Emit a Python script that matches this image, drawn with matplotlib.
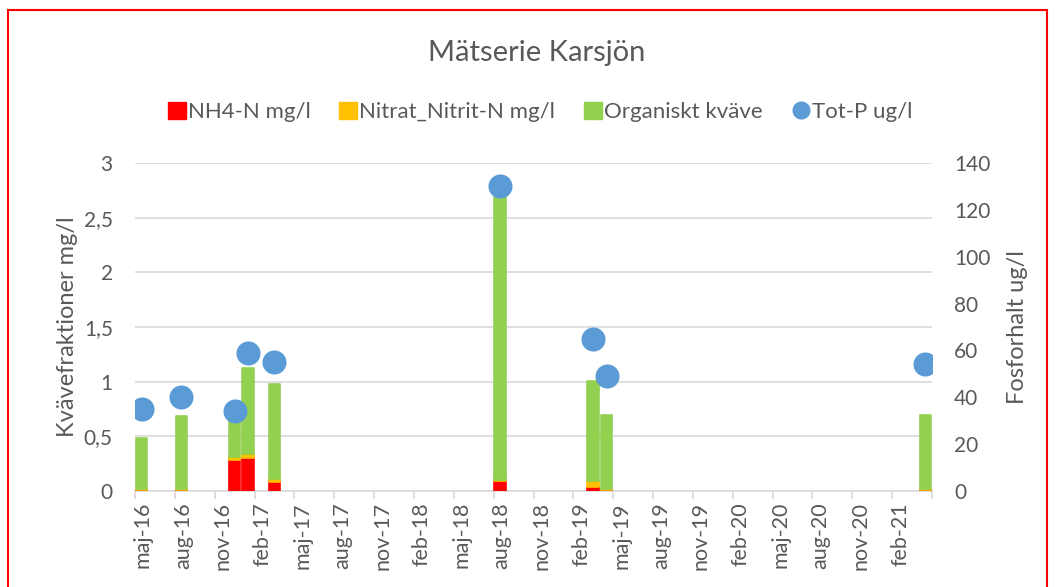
import pandas as pd
import matplotlib
matplotlib.use("Agg")
import matplotlib.pyplot as plt
from matplotlib.patches import Patch, Rectangle
from matplotlib.lines import Line2D
from matplotlib.ticker import FuncFormatter

# -------------------------
# DATA
# -------------------------
sample_months = ["2016-05", "2016-08", "2016-12", "2017-01", "2017-03",
                 "2018-08", "2019-03", "2019-04", "2021-04"]
nh4_n = [0.01, 0.01, 0.28, 0.30, 0.08, 0.09, 0.04, 0.01, 0.01]
nitrat_nitrit = [0.005, 0.005, 0.03, 0.04, 0.03, 0.01, 0.05, 0.005, 0.005]
organiskt = [0.47, 0.675, 0.44, 0.785, 0.87, 2.70, 0.92, 0.68, 0.68]
tot_p = [35, 40, 34, 59, 55, 130, 65, 49, 54]

axis_start = "2016-05"
axis_end = "2021-05"
sv_months = {1: "jan", 2: "feb", 3: "mar", 4: "apr", 5: "maj", 6: "jun",
             7: "jul", 8: "aug", 9: "sep", 10: "okt", 11: "nov", 12: "dec"}

# -------------------------
# STYLE
# -------------------------
RED = "#FF0000"
YELLOW = "#FFC000"
GREEN = "#92D050"
BLUE = "#5B9BD5"
GRAY = "#595959"
GRID = "#D9D9D9"
plt.rcParams["font.family"] = ["Lato", "DejaVu Sans"]

# month index relative to axis start, bars sit in the middle of their month
start = pd.Period(axis_start, freq="M")
end = pd.Period(axis_end, freq="M")
x = [(pd.Period(m, freq="M") - start).n + 0.5 for m in sample_months]
n_months = (end - start).n

fig = plt.figure(figsize=(10.56, 5.87), dpi=100)
ax = fig.add_axes([135 / 1056, 1 - 491 / 587, (932 - 135) / 1056, (491 - 163) / 587])
ax2 = ax.twinx()

# -------------------------
# STACKED BARS
# -------------------------
bw = 0.88
kw = dict(width=bw, linewidth=1.2, joinstyle="round", zorder=3)
ax.bar(x, nh4_n, color=RED, edgecolor=RED, **kw)
bottom2 = [a for a in nh4_n]
ax.bar(x, nitrat_nitrit, bottom=bottom2, color=YELLOW, edgecolor=YELLOW, **kw)
bottom3 = [a + b for a, b in zip(nh4_n, nitrat_nitrit)]
ax.bar(x, organiskt, bottom=bottom3, color=GREEN, edgecolor=GREEN, **kw)

ax2.scatter(x, tot_p, s=300, color=BLUE, zorder=5, linewidths=0)

# -------------------------
# AXES
# -------------------------
ax.set_xlim(0, n_months)
ax.set_ylim(0, 3)
ax2.set_ylim(0, 140)
ax.set_yticks([0, 0.5, 1, 1.5, 2, 2.5, 3])
ax2.set_yticks(range(0, 141, 20))
ax.yaxis.set_major_formatter(FuncFormatter(lambda v, p: f"{v:g}".replace(".", ",")))

major = list(range(0, n_months + 1, 3))
ax.set_xticks(major)
ax.set_xticklabels([])
label_pos = [m + 0.6 for m in range(0, n_months, 3)]
labels = []
for m in range(0, n_months, 3):
    p = start + m
    labels.append(f"{sv_months[p.month]}-{str(p.year)[2:]}")
ax.set_xticks(label_pos, minor=True)
ax.set_xticklabels(labels, minor=True, rotation=90, fontsize=15.5, color=GRAY)
ax.tick_params(axis="x", which="major", length=6, color=GRID, width=1.2)
ax.tick_params(axis="x", which="minor", length=0, pad=8)

ax.tick_params(axis="y", length=0, labelsize=15, labelcolor=GRAY, pad=16)
ax2.tick_params(axis="y", length=0, labelsize=15, labelcolor=GRAY, pad=16)
for lbl in ax2.get_yticklabels():
    lbl.set_horizontalalignment("left")

ax.yaxis.grid(True, color=GRID, linewidth=1.2, zorder=0)
ax.set_axisbelow(True)
for a in (ax, ax2):
    for s in a.spines.values():
        s.set_visible(False)
ax.spines["bottom"].set_visible(True)
ax.spines["bottom"].set_color(GRID)
ax.spines["bottom"].set_linewidth(1.2)

ax.set_ylabel("Kvävefraktioner mg/l", fontsize=17, color=GRAY, labelpad=4)
ax2.set_ylabel("Fosforhalt ug/l", fontsize=17, color=GRAY, labelpad=12)

fig.text(537 / 1056, 1 - 53 / 587, "Mätserie Karsjön", fontsize=21, color=GRAY,
         ha="center", va="center")

handles = [
    Patch(facecolor=RED, edgecolor=RED),
    Patch(facecolor=YELLOW, edgecolor=YELLOW),
    Patch(facecolor=GREEN, edgecolor=GREEN),
    Line2D([], [], marker="o", linestyle="", markersize=12, color=BLUE),
]
fig.legend(handles, ["NH4-N mg/l", "Nitrat_Nitrit-N mg/l", "Organiskt kväve", "Tot-P ug/l"],
           loc="center", bbox_to_anchor=(540 / 1056, 1 - 112 / 587), ncol=4, frameon=False,
           fontsize=16, labelcolor=GRAY, handlelength=0.8, handleheight=0.8,
           handletextpad=0.1, columnspacing=1.3)

# red frame round the chart
fig.patches.append(Rectangle((8 / 1056, -0.05), (1047 - 8) / 1056, 1.05 - 10 / 587,
                             transform=fig.transFigure, fill=False, edgecolor=RED,
                             linewidth=1.5))

fig.savefig("out.png", dpi=100)
